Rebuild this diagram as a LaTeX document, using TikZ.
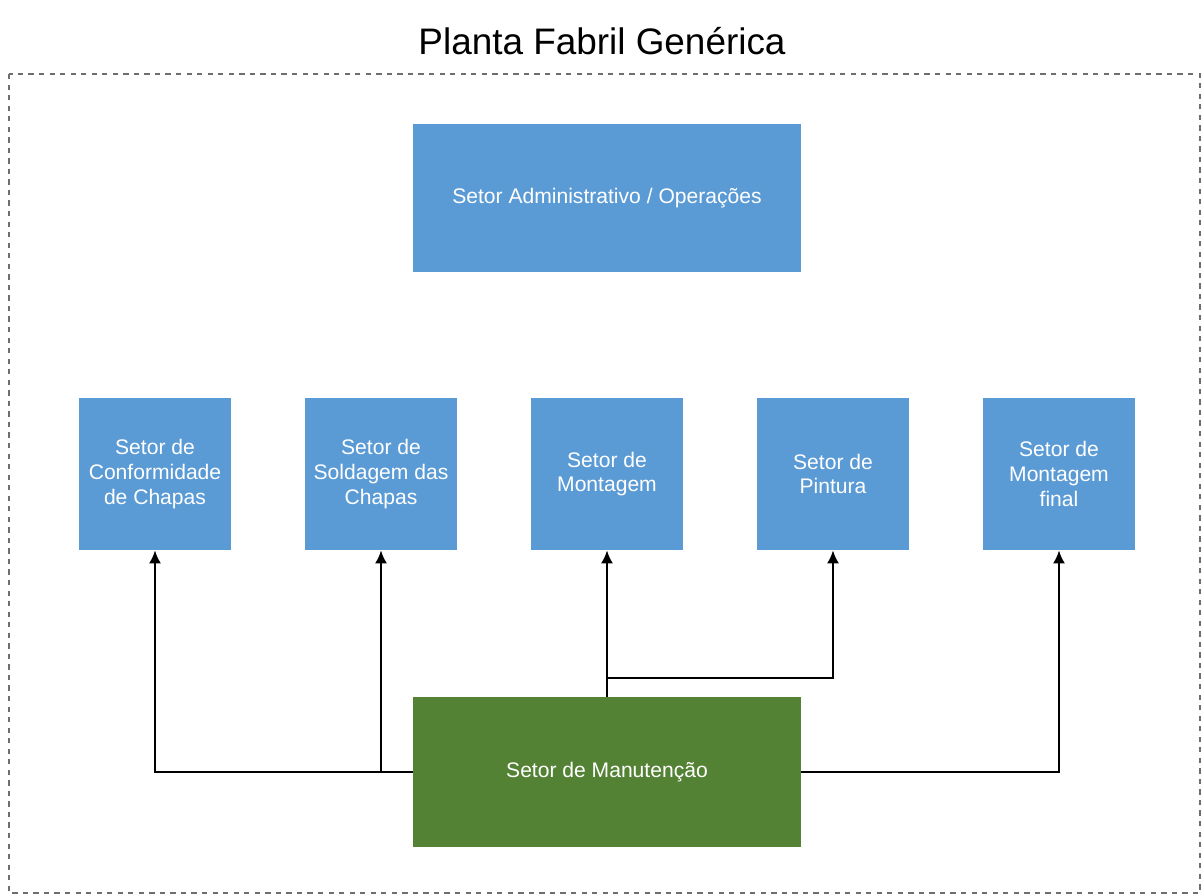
\documentclass[tikz,border=0pt]{standalone}
\usepackage{fontspec}
\setmainfont{Liberation Sans}
\usetikzlibrary{arrows.meta}
\definecolor{setorblue}{HTML}{5B9BD5}
\definecolor{setorgreen}{HTML}{548235}
\definecolor{framegray}{HTML}{6E6E6E}

\begin{document}
\begin{tikzpicture}[>={Latex[length=2.6mm,width=2.4mm]}, x=0.02cm, y=-0.02cm]

\tikzstyle{setor}=[fill=setorblue, draw=none, minimum width=3.04cm, minimum height=3.04cm, inner sep=0pt, align=center, text=white, font=\fontsize{12}{14}\selectfont]
\tikzstyle{setorwide}=[setor, minimum width=7.76cm, minimum height=2.98cm]
\tikzstyle{arrow}=[->, line width=1.2pt]

\useasboundingbox (0,0) rectangle (1204,895);

% --- frame and title ---
\draw[framegray, dashed, line width=0.8pt] (9,74) rectangle (1200,893);
\node (title) at (602,41) {\fontsize{21}{25}\selectfont Planta Fabril Genérica};

% --- administration ---
\node[setorwide] (admin) at (607,198) {Setor Administrativo / Operações};

% --- production sectors ---
\node[setor] (conf)  at (155,474)  {Setor de\\Conformidade\\de Chapas};
\node[setor] (sold)  at (381,474)  {Setor de\\Soldagem das\\Chapas};
\node[setor] (mont)  at (607,474)  {Setor de\\Montagem};
\node[setor] (pint)  at (833,474)  {Setor de\\Pintura};
\node[setor] (final) at (1059,474) {Setor de\\Montagem\\final};

% --- maintenance ---
\node[setorwide, fill=setorgreen, minimum height=3.0cm] (manut) at (607,772) {Setor de Manutenção};

% --- connectors ---
\coordinate (split) at (607,678);
\draw[arrow] (manut.west) -| (conf.south);
\draw[arrow] (manut.west -| sold.south) -- (sold.south);
\draw[arrow] (manut.north) -- (mont.south);
\draw[arrow] (split) -| (pint.south);
\draw[arrow] (manut.east) -| (final.south);

\end{tikzpicture}
\end{document}
